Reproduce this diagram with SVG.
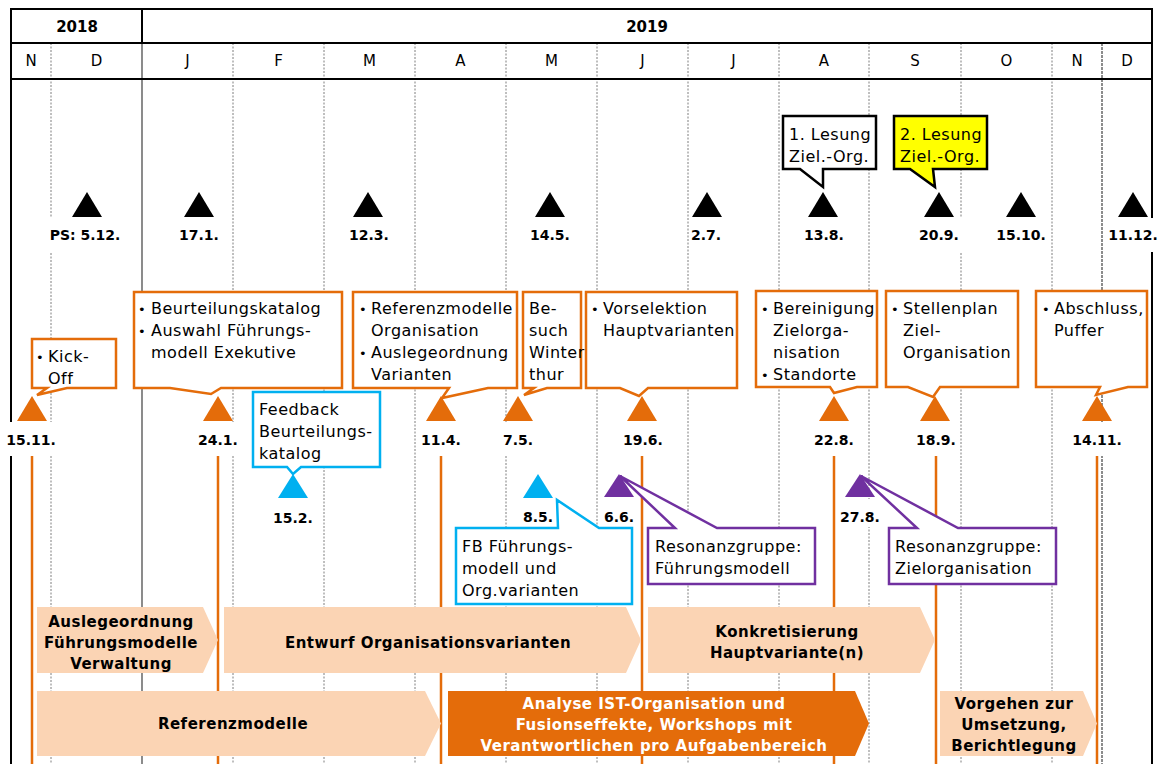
<svg xmlns="http://www.w3.org/2000/svg" width="1163" height="764" viewBox="0 0 1163 764">
<style>
  .grid{stroke:#7f7f7f;stroke-width:1;stroke-dasharray:2,1.5;fill:none}
  .frame{stroke:#000;stroke-width:2;fill:none}
  .oline{stroke:#E46C0A;stroke-width:2.5;fill:none}
  .t{font-family:"DejaVu Sans",Verdana,sans-serif;font-size:16px;letter-spacing:0.5px;fill:#000}
  .bu{font-family:"DejaVu Sans",Verdana,sans-serif;font-size:13px;fill:#000}
  .hd{font-family:"DejaVu Sans",Verdana,sans-serif;font-size:15px;fill:#000;text-anchor:middle}
  .yr{font-family:"DejaVu Sans",Verdana,sans-serif;font-size:15px;font-weight:bold;fill:#000;text-anchor:middle}
  .lb{font-family:"DejaVu Sans",Verdana,sans-serif;font-size:14px;font-weight:bold;fill:#000;text-anchor:middle}
  .bt{font-family:"DejaVu Sans",Verdana,sans-serif;font-size:15px;font-weight:bold;letter-spacing:0.5px;fill:#000;text-anchor:middle}
  .wt{fill:#fff}
  .bg{fill:#fff}
  .co{fill:#fff;stroke:#E46C0A;stroke-width:2.5;stroke-linejoin:miter}
  .cb{fill:#fff;stroke:#00B0F0;stroke-width:2.5}
  .cp{fill:#fff;stroke:#7030A0;stroke-width:2.5}
  .ck{fill:#fff;stroke:#000;stroke-width:2.5}
  .cy{fill:#FFFF00;stroke:#000;stroke-width:2.5}
  .peach{fill:#FBD4B4}
  .dark{fill:#E46C0A}
  .tk{fill:#000}
  .to{fill:#E46C0A}
  .tb{fill:#00B0F0}
  .tp{fill:#7030A0}
</style>

<g id="grid">
  <line class="grid" x1="51" y1="43" x2="51" y2="764"/>
  <line class="grid" x1="233" y1="43" x2="233" y2="764"/>
  <line class="grid" x1="324" y1="43" x2="324" y2="764"/>
  <line class="grid" x1="415" y1="43" x2="415" y2="764"/>
  <line class="grid" x1="506" y1="43" x2="506" y2="764"/>
  <line class="grid" x1="597" y1="43" x2="597" y2="764"/>
  <line class="grid" x1="688" y1="43" x2="688" y2="764"/>
  <line class="grid" x1="779" y1="43" x2="779" y2="764"/>
  <line class="grid" x1="869" y1="43" x2="869" y2="764"/>
  <line class="grid" x1="961" y1="43" x2="961" y2="764"/>
  <line class="grid" x1="1052" y1="43" x2="1052" y2="764"/>
  <line x1="1102" y1="43" x2="1102" y2="764" stroke="#8c8c8c" stroke-width="2" stroke-dasharray="3,1"/>
  <line x1="142" y1="43" x2="142" y2="764" stroke="#6f6f6f" stroke-width="1.6"/>
  <line class="frame" x1="142" y1="9" x2="142" y2="43"/>
  <line class="frame" x1="10" y1="9" x2="1153" y2="9"/>
  <line class="frame" x1="11" y1="43" x2="1152" y2="43"/>
  <line class="frame" x1="11" y1="79" x2="1152" y2="79"/>
  <line class="frame" x1="11" y1="9" x2="11" y2="764"/>
  <line class="frame" x1="1152" y1="9" x2="1152" y2="764"/>
</g>

<g id="header">
  <text class="yr" x="77" y="32">2018</text>
  <text class="yr" x="647" y="32">2019</text>
  <text class="hd" x="31" y="66">N</text>
  <text class="hd" x="96.5" y="66">D</text>
  <text class="hd" x="187.5" y="66">J</text>
  <text class="hd" x="278.5" y="66">F</text>
  <text class="hd" x="369.5" y="66">M</text>
  <text class="hd" x="460.5" y="66">A</text>
  <text class="hd" x="551.5" y="66">M</text>
  <text class="hd" x="642.5" y="66">J</text>
  <text class="hd" x="733.5" y="66">J</text>
  <text class="hd" x="824" y="66">A</text>
  <text class="hd" x="915" y="66">S</text>
  <text class="hd" x="1006.5" y="66">O</text>
  <text class="hd" x="1077" y="66">N</text>
  <text class="hd" x="1127" y="66">D</text>
</g>

<g id="connectors">
  <line class="oline" x1="32" y1="456" x2="32" y2="764"/>
  <line class="oline" x1="218" y1="456" x2="218" y2="764"/>
  <line class="oline" x1="441" y1="456" x2="441" y2="764"/>
  <line class="oline" x1="642" y1="456" x2="642" y2="764"/>
  <line class="oline" x1="834" y1="456" x2="834" y2="764"/>
  <line class="oline" x1="936" y1="456" x2="936" y2="764"/>
  <line class="oline" x1="1097" y1="456" x2="1097" y2="764"/>
</g>

<g id="bars">
  <g id="bar-auslegeordnung">
    <path class="peach" d="M37,607 H203 L218,640 L203,673 H37 Z"/>
    <text class="bt" x="121" y="627">Auslegeordnung</text>
    <text class="bt" x="121" y="648">Führungsmodelle</text>
    <text class="bt" x="121" y="669">Verwaltung</text>
  </g>
  <g id="bar-entwurf">
    <path class="peach" d="M224,607 H626 L641,640 L626,673 H224 Z"/>
    <text class="bt" x="428" y="648">Entwurf Organisationsvarianten</text>
  </g>
  <g id="bar-konkretisierung">
    <path class="peach" d="M648,607 H920 L935,640 L920,673 H648 Z"/>
    <text class="bt" x="787" y="637">Konkretisierung</text>
    <text class="bt" x="787" y="658">Hauptvariante(n)</text>
  </g>
  <g id="bar-referenzmodelle">
    <path class="peach" d="M37,691 H425 L441,723.5 L425,756 H37 Z"/>
    <text class="bt" x="233" y="729">Referenzmodelle</text>
  </g>
  <g id="bar-analyse">
    <path class="dark" d="M448,691 H855 L869,723.5 L855,756 H448 Z"/>
    <text class="bt wt" x="654" y="709">Analyse IST-Organisation und</text>
    <text class="bt wt" x="654" y="730">Fusionseffekte, Workshops mit</text>
    <text class="bt wt" x="654" y="751">Verantwortlichen pro Aufgabenbereich</text>
  </g>
  <g id="bar-vorgehen">
    <path class="peach" d="M940,691 H1083 L1097,723.5 L1083,756 H940 Z"/>
    <text class="bt" x="1014" y="709">Vorgehen zur</text>
    <text class="bt" x="1014" y="730">Umsetzung,</text>
    <text class="bt" x="1014" y="751">Berichtlegung</text>
  </g>
</g>

<g id="milestones-black">
  <g id="m-5-12"><polygon class="tk" points="87,192 102,217 72,217"/><rect class="bg" x="47" y="218" width="77" height="34"/><text class="lb" x="85" y="240">PS: 5.12.</text></g>
  <g id="m-17-1"><polygon class="tk" points="199,192 214,217 184,217"/><rect class="bg" x="177" y="218" width="44" height="34"/><text class="lb" x="199" y="240">17.1.</text></g>
  <g id="m-12-3"><polygon class="tk" points="368,192 383,217 353,217"/><rect class="bg" x="347" y="218" width="44" height="34"/><text class="lb" x="369" y="240">12.3.</text></g>
  <g id="m-14-5"><polygon class="tk" points="550,192 565,217 535,217"/><rect class="bg" x="528" y="218" width="44" height="34"/><text class="lb" x="550" y="240">14.5.</text></g>
  <g id="m-2-7"><polygon class="tk" points="707,192 722,217 692,217"/><rect class="bg" x="689" y="218" width="35" height="34"/><text class="lb" x="706" y="240">2.7.</text></g>
  <g id="m-13-8"><polygon class="tk" points="823,192 838,217 808,217"/><rect class="bg" x="802" y="218" width="44" height="34"/><text class="lb" x="824" y="240">13.8.</text></g>
  <g id="m-20-9"><polygon class="tk" points="939,192 954,217 924,217"/><rect class="bg" x="917" y="218" width="45" height="34"/><text class="lb" x="939" y="240">20.9.</text></g>
  <g id="m-15-10"><polygon class="tk" points="1021,192 1036,217 1006,217"/><rect class="bg" x="995" y="218" width="53" height="34"/><text class="lb" x="1021" y="240">15.10.</text></g>
  <g id="m-11-12"><polygon class="tk" points="1133,192 1148,217 1118,217"/><rect class="bg" x="1106" y="218" width="54" height="34"/><text class="lb" x="1133" y="240">11.12.</text></g>
</g>

<g id="milestones-orange">
  <g id="o-15-11"><polygon class="to" points="32,396 47,421 17,421"/><rect class="bg" x="5" y="422" width="53" height="34"/><text class="lb" x="31" y="445">15.11.</text></g>
  <g id="o-24-1"><polygon class="to" points="218,396 233,421 203,421"/><rect class="bg" x="196" y="422" width="44" height="34"/><text class="lb" x="218" y="445">24.1.</text></g>
  <g id="o-11-4"><polygon class="to" points="441,396 456,421 426,421"/><rect class="bg" x="419" y="422" width="44" height="34"/><text class="lb" x="441" y="445">11.4.</text></g>
  <g id="o-7-5"><polygon class="to" points="518,396 533,421 503,421"/><rect class="bg" x="501" y="422" width="35" height="34"/><text class="lb" x="518" y="445">7.5.</text></g>
  <g id="o-19-6"><polygon class="to" points="642,396 657,421 627,421"/><rect class="bg" x="621" y="422" width="44" height="34"/><text class="lb" x="643" y="445">19.6.</text></g>
  <g id="o-22-8"><polygon class="to" points="834,396 849,421 819,421"/><rect class="bg" x="812" y="422" width="44" height="34"/><text class="lb" x="834" y="445">22.8.</text></g>
  <g id="o-18-9"><polygon class="to" points="935,396 950,421 920,421"/><rect class="bg" x="914" y="422" width="44" height="34"/><text class="lb" x="936" y="445">18.9.</text></g>
  <g id="o-14-11"><polygon class="to" points="1097,396 1112,421 1082,421"/><rect class="bg" x="1071" y="422" width="53" height="34"/><text class="lb" x="1097" y="445">14.11.</text></g>
</g>

<g id="milestones-low">
  <g id="b-15-2"><polygon class="tb" points="293,474 308,498 278,498"/><rect class="bg" x="271" y="499" width="44" height="33"/><text class="lb" x="293" y="523">15.2.</text></g>
  <g id="b-8-5"><polygon class="tb" points="538,474 553,498 523,498"/><rect class="bg" x="521" y="499" width="35" height="28"/><text class="lb" x="538" y="522">8.5.</text></g>
  <g id="p-6-6"><polygon class="tp" points="619,474 634,497 604,497"/><rect class="bg" x="602" y="499" width="35" height="28"/><text class="lb" x="619" y="522">6.6.</text></g>
  <g id="p-27-8"><polygon class="tp" points="860,474 875,497 845,497"/><rect class="bg" x="838" y="499" width="44" height="28"/><text class="lb" x="860" y="522">27.8.</text></g>
</g>

<g id="callouts">
  <g id="c-kickoff">
    <path class="co" d="M32,339 H116 V388 H67 L37,395 L47,388 H32 Z"/>
    <text class="bu" x="36" y="362">•</text><text class="t" x="48" y="362">Kick-</text>
    <text class="t" x="48" y="384">Off</text>
  </g>
  <g id="c-beurteilung">
    <path class="co" d="M134,292 H342 V388 H221 L211,394 L170,388 H134 Z"/>
    <text class="bu" x="138" y="314">•</text><text class="t" x="151" y="314">Beurteilungskatalog</text>
    <text class="bu" x="138" y="336">•</text><text class="t" x="151" y="336">Auswahl Führungs-</text>
    <text class="t" x="151" y="358">modell Exekutive</text>
  </g>
  <g id="c-referenz">
    <path class="co" d="M353,292 H517 V388 H488 L442,398 L449,388 H353 Z"/>
    <text class="bu" x="359" y="314">•</text><text class="t" x="371" y="314">Referenzmodelle</text>
    <text class="t" x="371" y="336">Organisation</text>
    <text class="bu" x="359" y="358">•</text><text class="t" x="371" y="358">Auslegeordnung</text>
    <text class="t" x="371" y="380">Varianten</text>
  </g>
  <g id="c-besuch">
    <path class="co" d="M523,292 H581 V388 H547 L524,395 L534,388 H523 Z"/>
    <text class="t" x="529" y="314">Be-</text>
    <text class="t" x="529" y="336">such</text>
    <text class="t" x="529" y="358">Winter</text>
    <text class="t" x="529" y="380">thur</text>
  </g>
  <g id="c-vorselektion">
    <path class="co" d="M586,292 H737 V388 H648 L639,396 L620,388 H586 Z"/>
    <text class="bu" x="591" y="314">•</text><text class="t" x="603" y="314">Vorselektion</text>
    <text class="t" x="603" y="336">Hauptvarianten</text>
  </g>
  <g id="c-bereinigung">
    <path class="co" d="M756,291 H877 V387 H857 L834,393 L830,387 H756 Z"/>
    <text class="bu" x="761" y="314">•</text><text class="t" x="773" y="314">Bereinigung</text>
    <text class="t" x="773" y="336">Zielorga-</text>
    <text class="t" x="773" y="358">nisation</text>
    <text class="bu" x="761" y="380">•</text><text class="t" x="773" y="380">Standorte</text>
  </g>
  <g id="c-stellenplan">
    <path class="co" d="M886,291 H1018 V387 H940 L933,397 L908,387 H886 Z"/>
    <text class="bu" x="891" y="314">•</text><text class="t" x="903" y="314">Stellenplan</text>
    <text class="t" x="903" y="336">Ziel-</text>
    <text class="t" x="903" y="358">Organisation</text>
  </g>
  <g id="c-abschluss">
    <path class="co" d="M1036,291 H1147 V387 H1128 L1096,395 L1100,387 H1036 Z"/>
    <text class="bu" x="1042" y="314">•</text><text class="t" x="1054" y="314">Abschluss,</text>
    <text class="t" x="1054" y="336">Puffer</text>
  </g>
  <g id="c-lesung1">
    <path class="ck" d="M783,116 H876 V169 H823 V187 L800,169 H783 Z"/>
    <text class="t" x="789" y="140">1. Lesung</text>
    <text class="t" x="789" y="162">Ziel.-Org.</text>
  </g>
  <g id="c-lesung2">
    <path class="cy" d="M894,116 H987 V169 H933 L935,187 L910,169 H894 Z"/>
    <text class="t" x="900" y="140">2. Lesung</text>
    <text class="t" x="900" y="162">Ziel.-Org.</text>
  </g>
  <g id="c-feedback">
    <path class="cb" d="M253,392 H380 V467 H301 L293,474 L287,467 H253 Z"/>
    <text class="t" x="259" y="415">Feedback</text>
    <text class="t" x="259" y="437">Beurteilungs-</text>
    <text class="t" x="259" y="459">katalog</text>
  </g>
  <g id="c-fb">
    <path class="cb" d="M456,528 H558 L557,500 L599,528 H632 V604 H456 Z"/>
    <text class="t" x="462" y="552">FB Führungs-</text>
    <text class="t" x="462" y="574">modell und</text>
    <text class="t" x="462" y="596">Org.varianten</text>
  </g>
  <g id="c-resonanz1">
    <path class="cp" d="M648,528 H675 L620,476 L717,528 H815 V584 H648 Z"/>
    <text class="t" x="655" y="552">Resonanzgruppe:</text>
    <text class="t" x="655" y="574">Führungsmodell</text>
  </g>
  <g id="c-resonanz2">
    <path class="cp" d="M889,528 H917 L861,476 L958,528 H1056 V584 H889 Z"/>
    <text class="t" x="895" y="552">Resonanzgruppe:</text>
    <text class="t" x="895" y="574">Zielorganisation</text>
  </g>
</g>
</svg>
